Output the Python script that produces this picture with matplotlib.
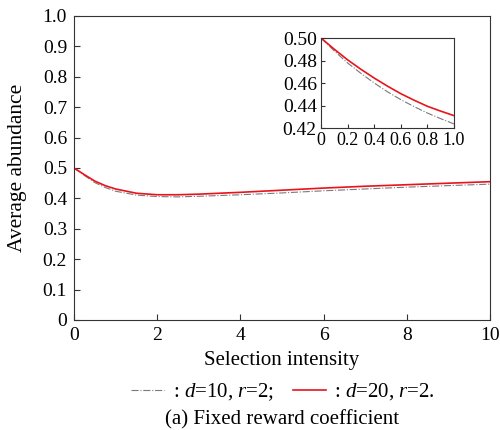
import matplotlib
matplotlib.use('Agg')
from matplotlib import pyplot as plt
from matplotlib.lines import Line2D

plt.rcParams['font.family'] = 'serif'
plt.rcParams['font.serif'] = ['Liberation Serif', 'DejaVu Serif']
plt.rcParams['mathtext.fontset'] = 'custom'
plt.rcParams['mathtext.rm'] = 'Liberation Serif'
plt.rcParams['mathtext.it'] = 'Liberation Serif:italic'

# main curves
x_main = [0, 0.25, 0.5, 0.75, 1, 1.5, 2, 2.5, 3, 4, 5, 6, 7, 8, 9, 10]
red_main = [0.5, 0.478, 0.457, 0.442, 0.431, 0.417, 0.412, 0.412, 0.414,
            0.420, 0.427, 0.434, 0.440, 0.445, 0.450, 0.455]
gray_main = [0.5, 0.4755, 0.452, 0.436, 0.4236, 0.411, 0.406, 0.405, 0.407,
             0.412, 0.418, 0.425, 0.431, 0.437, 0.442, 0.447]

# inset (zoom on [0, 1])
x_ins = [0, 0.1, 0.2, 0.3, 0.4, 0.5, 0.6, 0.7, 0.8, 0.9, 1.0]
red_ins = [0.5, 0.4900, 0.4806, 0.4722, 0.4644, 0.4572, 0.4505, 0.4447,
           0.4393, 0.4350, 0.4310]
gray_ins = [0.5, 0.4885, 0.4778, 0.4686, 0.4600, 0.4522, 0.4452, 0.4390,
            0.4333, 0.4283, 0.4236]

x_ticks = [0, 2, 4, 6, 8, 10]
y_ticks = [0, 0.1, 0.2, 0.3, 0.4, 0.5, 0.6, 0.7, 0.8, 0.9, 1.0]
y_ticklabels = ['0', '0.1', '0.2', '0.3', '0.4', '0.5', '0.6', '0.7', '0.8', '0.9', '1.0']
xi_ticks = [0, 0.2, 0.4, 0.6, 0.8, 1.0]
xi_ticklabels = ['0', '0.2', '0.4', '0.6', '0.8', '1.0']
yi_ticks = [0.42, 0.44, 0.46, 0.48, 0.50]
yi_ticklabels = ['0.42', '0.44', '0.46', '0.48', '0.50']

red = '#e8141c'
gray = '#7a7a7a'
spine_c = '#333333'

W, H = 500, 430
fig = plt.figure(figsize=(W / 100, H / 100), dpi=100)

ax = fig.add_axes([74 / W, (H - 320) / H, 416 / W, 304 / H])
ax.plot(x_main, gray_main, color=gray, lw=0.8, ls='-.')
ax.plot(x_main, red_main, color=red, lw=1.2)
ax.set_xlim(0, 10)
ax.set_ylim(0, 1)
ax.set_xticks(x_ticks)
ax.set_yticks(y_ticks)
ax.set_yticklabels(y_ticklabels)
ax.tick_params(direction='in', length=4, labelsize=14, color=spine_c, pad=5)
for s in ax.spines.values():
    s.set_color(spine_c)
ax.set_xlabel('Selection intensity', fontsize=15, va='center')
ax.set_ylabel('Average abundance', fontsize=15.5, va='center')
ax.xaxis.set_label_coords(0.5, -(361 - 320) / 304)
ax.yaxis.set_label_coords(-(74 - 18) / 416, 0.5)

ins = fig.add_axes([321 / W, (H - 128) / H, 133 / W, 90 / H])
ins.plot(x_ins, gray_ins, color=gray, lw=0.8, ls='-.')
ins.plot(x_ins, red_ins, color=red, lw=1.2)
ins.set_xlim(0, 1)
ins.set_ylim(0.42, 0.50)
ins.set_xticks(xi_ticks)
ins.set_xticklabels(xi_ticklabels)
ins.set_yticks(yi_ticks)
ins.set_yticklabels(yi_ticklabels)
ins.tick_params(direction='in', length=3, color=spine_c, pad=3)
ins.tick_params(axis='x', labelsize=13)
ins.tick_params(axis='y', labelsize=14)
for s in ins.spines.values():
    s.set_color(spine_c)

handles = [Line2D([], [], color=gray, lw=0.8, ls='-.'),
           Line2D([], [], color=red, lw=1.2)]
labels = [': $d$=10, $r$=2;', ': $d$=20, $r$=2.']
fig.legend(handles, labels, loc='center', bbox_to_anchor=(0.566, 1 - 392 / H),
           ncol=2, frameon=False, fontsize=15, handlelength=1.6,
           handletextpad=0.4, columnspacing=0.9, borderpad=0)

fig.text(0.565, 1 - 420 / H, '(a) Fixed reward coefficient', ha='center',
         va='center', fontsize=15)

plt.savefig('out.png', dpi=100)
plt.close()
